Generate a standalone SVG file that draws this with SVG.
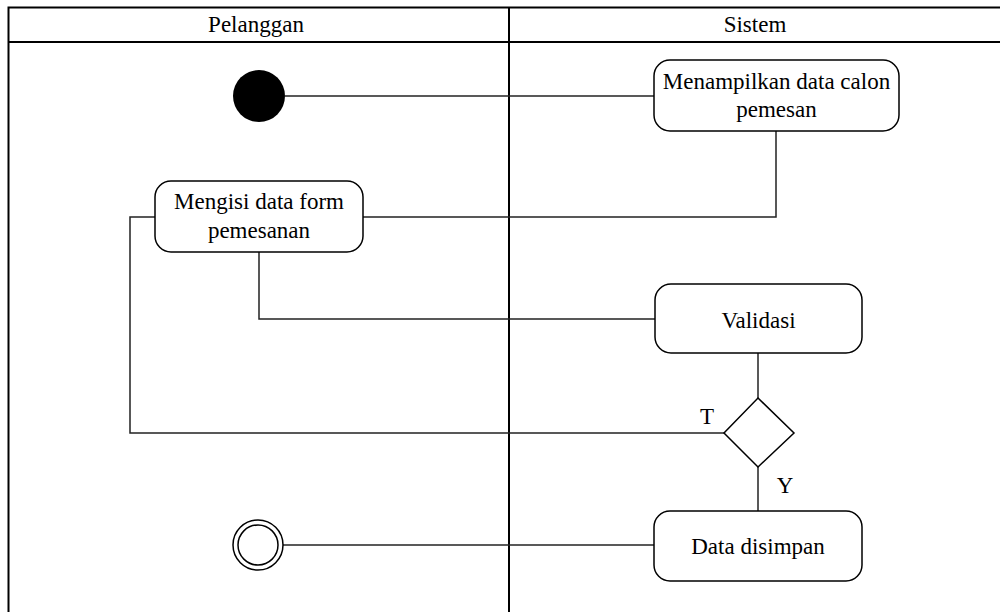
<svg xmlns="http://www.w3.org/2000/svg" width="1000" height="612" viewBox="0 0 1000 612">
  <style>
    .lane { fill: none; stroke: #000; stroke-width: 2; }
    .node { fill: #fff; stroke: #000; stroke-width: 1.5; }
    .conn { fill: none; stroke: #222; stroke-width: 1.5; }
    .t { font-family: 'Liberation Serif', 'Times New Roman', Times, 'DejaVu Serif', serif; font-size: 23px; fill: #000; text-anchor: middle; }
  </style>
  <rect width="1000" height="612" fill="#fff"/>
  <g id="swimlanes">
    <rect class="lane" x="8.5" y="7.5" width="1000" height="620"/>
    <line class="lane" x1="8.5" y1="42" x2="1000" y2="42"/>
    <line class="lane" x1="509" y1="7.5" x2="509" y2="612"/>
    <text class="t" font-family="Liberation Serif, serif" x="256" y="32">Pelanggan</text>
    <text class="t" font-family="Liberation Serif, serif" x="755" y="32">Sistem</text>
  </g>
  <g id="connectors">
    <line class="conn" x1="285" y1="96" x2="654" y2="96"/>
    <polyline class="conn" points="776,131 776,217 363,217"/>
    <polyline class="conn" points="259,252 259,319 655,319"/>
    <line class="conn" x1="758" y1="353" x2="758" y2="398"/>
    <polyline class="conn" points="724,433 130,433 130,217 155,217"/>
    <line class="conn" x1="758" y1="467" x2="758" y2="511"/>
    <line class="conn" x1="283" y1="545" x2="654" y2="545"/>
    <text class="t" x="707" y="424">T</text>
    <text class="t" x="785" y="493">Y</text>
  </g>
  <g id="start">
    <circle cx="259" cy="96" r="26" fill="#000"/>
  </g>
  <g id="menampilkan">
    <rect class="node" x="654" y="60" width="245" height="71" rx="16"/>
    <text class="t" x="776.5" y="89">Menampilkan data calon</text>
    <text class="t" x="776.5" y="117">pemesan</text>
  </g>
  <g id="mengisi">
    <rect class="node" x="155" y="181" width="208" height="71" rx="16"/>
    <text class="t" x="259" y="209">Mengisi data form</text>
    <text class="t" x="259" y="238">pemesanan</text>
  </g>
  <g id="validasi">
    <rect class="node" x="655" y="284" width="207" height="69" rx="16"/>
    <text class="t" x="758.5" y="328">Validasi</text>
  </g>
  <g id="decision">
    <polygon class="node" points="758,398 794,433 758,467 724,433"/>
  </g>
  <g id="disimpan">
    <rect class="node" x="654" y="511" width="208" height="70" rx="16"/>
    <text class="t" x="758" y="554">Data disimpan</text>
  </g>
  <g id="end">
    <circle class="node" cx="258" cy="545" r="25"/>
    <circle class="node" cx="258" cy="545" r="20"/>
  </g>
</svg>
